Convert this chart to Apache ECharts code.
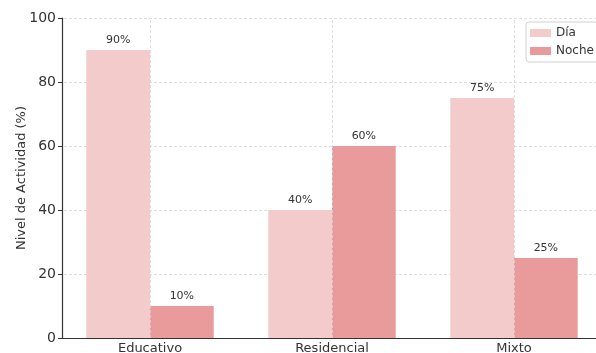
<!DOCTYPE html>
<html><head><meta charset="utf-8">
<script src="https://cdn.jsdelivr.net/npm/echarts@6/dist/echarts.min.js"></script>
<style>html,body{margin:0;padding:0;background:#fff}#c{width:596px;height:353px}</style>
</head><body><div id="c"></div>
<script>
const categories = ['Educativo', 'Residencial', 'Mixto'];
const diaValues = [90, 40, 75];
const nocheValues = [10, 60, 25];
const yTicks = [0, 20, 40, 60, 80, 100];
const seriesNames = ['Día', 'Noche'];

const font = 'DejaVu Sans';
const chart = echarts.init(document.getElementById('c'), null, {renderer: 'canvas'});
const labelCfg = {show: true, position: 'top', distance: 4, fontFamily: font, fontSize: 11, color: '#333',
  formatter: p => p.value + '%'};
chart.setOption({
  animation: false,
  grid: {left: 59, width: 546, top: 18, bottom: 15, containLabel: false, outerBoundsMode: 'none'},
  legend: {
    data: seriesNames, orient: 'vertical', left: 526, top: 22,
    itemWidth: 21, itemHeight: 8, itemGap: 6,
    padding: [5, 6, 5, 4], borderColor: '#d0d0d0', borderWidth: 1, borderRadius: 3,
    textStyle: {fontFamily: font, fontSize: 12, color: '#333'},
    icon: 'rect'
  },
  xAxis: {
    type: 'category', data: categories,
    axisLine: {lineStyle: {color: '#333', width: 1.2}},
    axisTick: {alignWithLabel: true, length: 4, lineStyle: {color: '#333'}},
    axisLabel: {fontFamily: font, fontSize: 13, color: '#333', margin: 4},
    splitLine: {show: false}
  },
  yAxis: {
    type: 'value', min: yTicks[0], max: yTicks[yTicks.length - 1], interval: 20, offset: -3,
    name: 'Nivel de Actividad (%)', nameLocation: 'middle', nameGap: 34, nameMoveOverlap: false,
    nameTextStyle: {fontFamily: font, fontSize: 13, color: '#333'},
    axisLine: {show: true, lineStyle: {color: '#333', width: 1.2}},
    axisTick: {show: true, length: 4, lineStyle: {color: '#333'}},
    axisLabel: {fontFamily: font, fontSize: 14, color: '#333', margin: 6},
    splitLine: {show: true, lineStyle: {color: '#d4d4d4', type: [3, 2], width: 0.8}}
  },
  series: [
    {type: 'line', data: [], z: 1, silent: true,
     markLine: {silent: true, symbol: 'none', label: {show: false},
       lineStyle: {color: '#d4d4d4', type: [3, 2], width: 0.8},
       data: categories.map(c => ({xAxis: c}))}},
    {name: seriesNames[0], type: 'bar', data: diaValues, barGap: '0%', barCategoryGap: '30%', z: 2,
     itemStyle: {color: '#F4CBCB'}, label: labelCfg},
    {name: seriesNames[1], type: 'bar', data: nocheValues, barGap: '0%', barCategoryGap: '30%', z: 2,
     itemStyle: {color: '#E99A9A'}, label: labelCfg}
  ]
});
</script></body></html>
